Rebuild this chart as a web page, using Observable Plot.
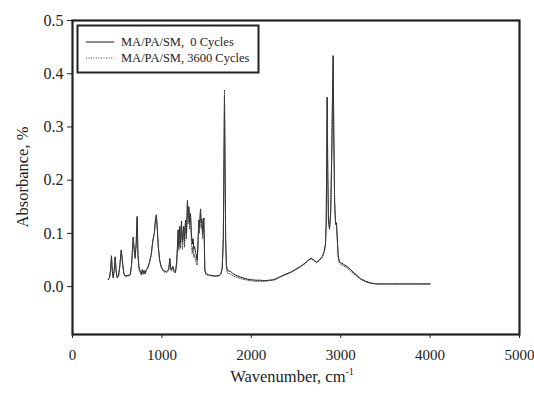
<!DOCTYPE html>
<html><head><meta charset="utf-8">
<script src="https://cdn.jsdelivr.net/npm/d3@7"></script>
<script src="https://cdn.jsdelivr.net/npm/@observablehq/plot@0.6"></script>
<style>body{margin:0;background:#fff} svg{font-family:"Liberation Serif",serif}</style>
</head><body><div id="chart"></div>
<script>
const wavenumber = [400,415,425,436,445,455,466,477,488,500,515,530,545,560,575,590,620,645,660,679,690,700,712,723,732,745,760,772,780,790,800,812,825,840,860,880,900,915,928,938,948,960,975,995,1020,1050,1075,1089,1098,1107,1122,1135,1152,1165,1175,1182,1190,1200,1208,1219,1230,1245,1253,1264,1275,1286,1294,1301,1310,1320,1330,1339,1348,1357,1366,1376,1385,1394,1403,1413,1420,1432,1440,1447,1455,1462,1469,1475,1480,1490,1520,1560,1600,1640,1660,1675,1687,1695,1700,1705,1713,1722,1732,1750,1767,1790,1830,1879,1930,1991,2050,2103,2140,2200,2252,2290,2327,2380,2438,2500,2550,2600,2640,2670,2700,2730,2760,2793,2815,2830,2838,2844,2849,2855,2863,2875,2888,2902,2910,2916,2922,2932,2943,2953,2962,2972,2985,2998,3030,3070,3110,3160,3221,3280,3333,3400,3500,3700,3900,4000];
const abs0Cycles = [0.013,0.018,0.030,0.058,0.030,0.017,0.030,0.056,0.030,0.017,0.020,0.040,0.069,0.045,0.024,0.020,0.021,0.022,0.040,0.093,0.070,0.055,0.080,0.132,0.060,0.035,0.028,0.024,0.032,0.026,0.030,0.025,0.032,0.035,0.045,0.060,0.088,0.100,0.125,0.135,0.110,0.075,0.050,0.036,0.030,0.028,0.032,0.053,0.035,0.032,0.038,0.030,0.028,0.045,0.080,0.107,0.075,0.113,0.080,0.123,0.085,0.113,0.085,0.125,0.100,0.162,0.130,0.150,0.120,0.137,0.100,0.080,0.090,0.071,0.075,0.064,0.060,0.049,0.080,0.125,0.110,0.146,0.120,0.127,0.100,0.110,0.129,0.080,0.032,0.025,0.022,0.021,0.020,0.021,0.024,0.035,0.090,0.250,0.358,0.250,0.090,0.040,0.031,0.029,0.029,0.025,0.021,0.018,0.015,0.013,0.012,0.012,0.011,0.012,0.013,0.016,0.019,0.023,0.027,0.033,0.038,0.044,0.050,0.053,0.050,0.046,0.050,0.056,0.066,0.080,0.120,0.250,0.356,0.220,0.125,0.109,0.140,0.270,0.380,0.434,0.300,0.160,0.118,0.120,0.090,0.058,0.047,0.045,0.042,0.038,0.032,0.024,0.015,0.010,0.007,0.005,0.005,0.005,0.005,0.005];
const abs3600Cycles = [0.013,0.017,0.029,0.056,0.029,0.016,0.029,0.054,0.029,0.016,0.019,0.039,0.067,0.044,0.023,0.019,0.020,0.021,0.038,0.090,0.068,0.052,0.078,0.128,0.057,0.032,0.025,0.021,0.029,0.023,0.027,0.023,0.030,0.034,0.044,0.059,0.087,0.100,0.125,0.134,0.108,0.073,0.048,0.034,0.028,0.026,0.030,0.050,0.032,0.029,0.035,0.027,0.026,0.042,0.076,0.104,0.068,0.110,0.072,0.120,0.070,0.110,0.074,0.122,0.090,0.160,0.118,0.148,0.108,0.134,0.085,0.062,0.075,0.055,0.060,0.048,0.045,0.040,0.070,0.122,0.100,0.144,0.110,0.124,0.090,0.105,0.126,0.075,0.030,0.023,0.021,0.020,0.019,0.020,0.023,0.034,0.092,0.258,0.370,0.255,0.088,0.036,0.026,0.024,0.024,0.021,0.018,0.015,0.013,0.011,0.010,0.010,0.010,0.011,0.012,0.015,0.018,0.022,0.026,0.032,0.037,0.043,0.049,0.052,0.049,0.045,0.049,0.055,0.065,0.079,0.118,0.248,0.354,0.218,0.123,0.107,0.138,0.268,0.378,0.432,0.298,0.158,0.116,0.118,0.087,0.055,0.044,0.042,0.039,0.035,0.029,0.022,0.014,0.009,0.006,0.005,0.005,0.005,0.005,0.005];
const seriesNames = ["MA/PA/SM,  0 Cycles", "MA/PA/SM, 3600 Cycles"];
const xTicks = [0, 1000, 2000, 3000, 4000, 5000];
const yTicks = [0, 0.1, 0.2, 0.3, 0.4, 0.5];
const xTitle = "Wavenumber, cm";
const xTitleSup = "-1";
const yTitle = "Absorbance, %";

const series0 = wavenumber.map((w, i) => ({w, a: abs0Cycles[i]}));
const series3600 = wavenumber.map((w, i) => ({w, a: abs3600Cycles[i]}));

const plot = Plot.plot({
  width: 534, height: 393,
  marginLeft: 72, marginRight: 15, marginTop: 20, marginBottom: 59,
  style: {fontFamily: "Liberation Serif, serif", background: "#fff", color: "#222"},
  x: {domain: [0, 5000]},
  y: {domain: [-0.09, 0.5]},
  marks: [
    Plot.axisX({ticks: xTicks, tickSize: 4, tickPadding: 11, label: null, fontSize: 15, tickFormat: d => String(d)}),
    Plot.axisY({ticks: yTicks, tickSize: 5, tickPadding: 4, label: null, fontSize: 16, tickFormat: d3.format(".1f")}),
    Plot.line(series0, {x: "w", y: "a", stroke: "#1a1a1a", strokeWidth: 1}),
    Plot.line(series3600, {x: "w", y: "a", stroke: "#444", strokeWidth: 1, strokeDasharray: "1,1.5"}),
    Plot.frame({stroke: "#222", strokeWidth: 2.2, strokeOpacity: 1})
  ]
});
document.getElementById("chart").appendChild(plot);

const svg = d3.select(plot);
// axis titles
svg.append("text")
  .attr("transform", "translate(28,177) rotate(-90)")
  .attr("text-anchor", "middle")
  .attr("font-size", 16.5).attr("fill", "#222")
  .text(yTitle);
const xt = svg.append("text")
  .attr("x", 292).attr("y", 382)
  .attr("text-anchor", "middle")
  .attr("font-size", 16.5).attr("fill", "#222");
xt.append("tspan").text(xTitle);
xt.append("tspan").attr("dy", -7).attr("font-size", 10).text(xTitleSup);

// legend
const lg = svg.append("g");
lg.append("rect").attr("x", 77.5).attr("y", 25.5).attr("width", 181).attr("height", 47)
  .attr("fill", "#fff").attr("stroke", "#222").attr("stroke-width", 2);
const dashes = [null, "1,1.5"];
seriesNames.forEach((name, i) => {
  const y = 42 + i * 16;
  lg.append("line").attr("x1", 86).attr("x2", 114).attr("y1", y).attr("y2", y)
    .attr("stroke", i === 0 ? "#1a1a1a" : "#444").attr("stroke-width", 1)
    .attr("stroke-dasharray", dashes[i]);
  lg.append("text").attr("x", 121).attr("y", y + 4.3)
    .attr("text-anchor", "start")
    .attr("font-size", 12.5).attr("fill", "#222")
    .style("white-space", "pre").attr("xml:space", "preserve")
    .text(name);
});
</script>
</body></html>
